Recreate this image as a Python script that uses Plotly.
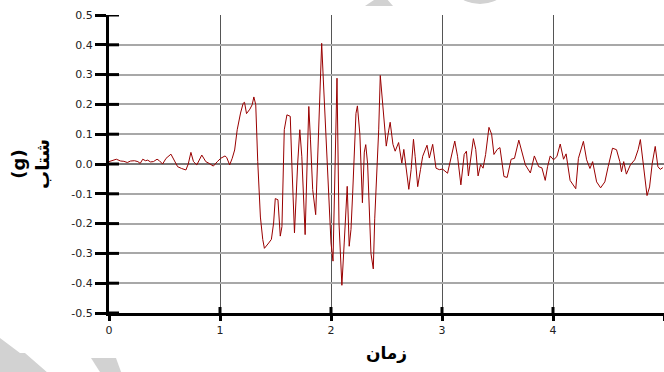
import plotly.graph_objects as go

# ---- data (time in s, acceleration in g) ----
TIME_S = [
    0.00, 0.021, 0.066, 0.105, 0.134, 0.165, 0.194, 0.23, 0.26, 0.281, 0.304, 0.329, 0.349, 0.373,
    0.40, 0.433, 0.454, 0.483, 0.514, 0.558, 0.588, 0.618, 0.654, 0.693, 0.714, 0.738, 0.761, 0.791,
    0.836, 0.872, 0.902, 0.94, 0.976, 1.006, 1.045, 1.06, 1.087, 1.11, 1.132, 1.155, 1.185, 1.209,
    1.221, 1.239, 1.269, 1.29, 1.305, 1.322, 1.34, 1.364, 1.385, 1.40,
    1.439, 1.463, 1.483, 1.498, 1.522, 1.543, 1.558, 1.579, 1.603, 1.633, 1.647, 1.671, 1.70, 1.719,
    1.737, 1.767, 1.785, 1.80, 1.815, 1.835, 1.862, 1.892, 1.90, 1.916, 1.931, 1.952, 1.976, 2.00,
    2.018, 2.041, 2.054, 2.072, 2.098, 2.119, 2.146, 2.164, 2.18, 2.195, 2.21, 2.225, 2.238, 2.26,
    2.283, 2.30, 2.313, 2.33, 2.36, 2.381, 2.394,
    2.415, 2.43, 2.444, 2.459, 2.474, 2.498, 2.519, 2.533, 2.558, 2.578, 2.609, 2.638, 2.656, 2.677,
    2.701, 2.722, 2.743, 2.758, 2.781, 2.806, 2.826, 2.865, 2.886, 2.916, 2.946, 2.976, 3.005, 3.05,
    3.074, 3.115, 3.14, 3.17, 3.20, 3.22, 3.238, 3.259, 3.283, 3.304, 3.325, 3.348, 3.37, 3.393,
    3.423, 3.447, 3.468, 3.498, 3.522, 3.558, 3.587,
    3.623, 3.653, 3.692, 3.722, 3.751, 3.796, 3.832, 3.871, 3.90, 3.93, 3.951, 3.975, 4.005, 4.035,
    4.065, 4.095, 4.118, 4.154, 4.205, 4.229, 4.274, 4.303, 4.333, 4.357, 4.393, 4.429, 4.467, 4.497,
    4.536, 4.572, 4.602, 4.617, 4.637, 4.661, 4.697, 4.736, 4.767, 4.787, 4.811, 4.847, 4.87, 4.894,
    4.921, 4.945, 4.966, 4.99,
]
ACCEL_G = [
    0.008, 0.010, 0.016, 0.010, 0.009, 0.005, 0.010, 0.011, 0.008, 0.002, 0.016, 0.011, 0.013, 0.007,
    0.008, 0.016, 0.011, 0.000, 0.019, 0.033, 0.013, -0.009, -0.015, -0.020, 0.000, 0.039, 0.008, -0.003,
    0.030, 0.008, 0.002, -0.007, 0.008, 0.019, 0.027, 0.022, -0.003, 0.019, 0.047, 0.115, 0.171, 0.204,
    0.207, 0.169, 0.184, 0.199, 0.225, 0.199, 0.008, -0.178, -0.253, -0.283,
    -0.265, -0.253, -0.198, -0.116, -0.120, -0.242, -0.210, 0.115, 0.165, 0.160, 0.003, -0.231, 0.003, 0.115,
    0.026, -0.237, 0.003, 0.193, 0.081, -0.086, -0.170, 0.160, 0.282, 0.405, 0.282, 0.115, -0.086, -0.265,
    -0.326, 0.115, 0.288, -0.198, -0.407, -0.265, -0.075, -0.276, -0.220, -0.100, 0.070, 0.170, 0.195, 0.100,
    -0.130, 0.040, 0.065, 0.000, -0.300, -0.352, -0.184,
    -0.008, 0.117, 0.297, 0.230, 0.140, 0.060, 0.111, 0.140, 0.066, 0.043, 0.072, 0.003, 0.049, -0.008,
    -0.085, -0.019, 0.083, 0.026, -0.076, -0.019, 0.026, 0.063, 0.020, 0.066, -0.014, -0.019, -0.017, -0.031,
    0.009, 0.077, 0.026, -0.070, 0.032, 0.043, -0.040, 0.015, 0.085, 0.049, -0.040, -0.002, -0.014, 0.032,
    0.123, 0.100, 0.032, 0.049, 0.055, -0.042, -0.045,
    0.016, 0.019, 0.080, 0.036, -0.003, -0.030, 0.027, -0.009, -0.013, -0.055, -0.009, 0.027, 0.014, 0.025,
    0.067, 0.016, 0.034, -0.055, -0.083, 0.019, 0.076, 0.014, -0.015, 0.008, -0.060, -0.080, -0.060, -0.009,
    0.053, 0.048, 0.008, -0.026, 0.008, -0.034, -0.003, 0.014, 0.048, 0.082, 0.002, -0.106, -0.077, 0.002,
    0.059, -0.009, -0.018, -0.012,
]

X_TICKS = [0, 1, 2, 3, 4, 5]
X_TICK_LABELS = ["0", "1", "2", "3", "4", "5"]
Y_TICKS = [-0.5, -0.4, -0.3, -0.2, -0.1, 0.0, 0.1, 0.2, 0.3, 0.4, 0.5]
Y_TICK_LABELS = ["-0.5", "-0.4", "-0.3", "-0.2", "-0.1", "0.0", "0.1", "0.2", "0.3", "0.4", "0.5"]

X_TITLE = "زمان"
Y_TITLE = "(g)<br>شتاب"

W, H = 664, 372
ML, MR, MT, MB = 109, 0, 15, 59
PW, PH = W - ML - MR, H - MT - MB

fig = go.Figure(
    go.Scatter(
        x=TIME_S, y=ACCEL_G, mode="lines",
        line=dict(color="#990000", width=1),
        showlegend=False,
    )
)

tick_font = dict(family="DejaVu Sans", size=11, color="#222222")
title_font = dict(family="DejaVu Sans", size=18, color="#000000", weight="bold")

shapes = []
# inner halves of the crossing tick marks
for yv in Y_TICKS:
    shapes.append(dict(type="line", xref="paper", yref="y", x0=0, x1=10 / PW, y0=yv, y1=yv,
                       line=dict(color="black", width=3), layer="above"))
for xv in X_TICKS[1:-1]:
    shapes.append(dict(type="line", xref="x", yref="paper", x0=xv, x1=xv, y0=0, y1=6 / PH,
                       line=dict(color="black", width=3), layer="above"))


def px2paper(px, py):
    return (px - ML) / PW, (H - MB - py) / PH


def poly(points):
    pts = [px2paper(a, b) for a, b in points]
    return "M " + " L ".join(f"{a:.4f},{b:.4f}" for a, b in pts) + " Z"


# faint watermark fragments in the background
wm = "#d2d2d2"
for pts in (
    [(0, 338), (20, 353), (25, 353), (56, 380), (-2, 380), (-2, 338)],
    [(91, 358), (116, 358), (124, 380), (105, 380)],
    [(365, 6), (393, 6), (386, -2), (377, -2)],
):
    shapes.append(dict(type="path", xref="paper", yref="paper", path=poly(pts),
                       fillcolor=wm, line=dict(width=0), layer="below"))
cx0, cy0 = px2paper(444, 4)
cx1, cy1 = px2paper(516, -68)
shapes.append(dict(type="circle", xref="paper", yref="paper", x0=cx0, x1=cx1, y0=cy0, y1=cy1,
                   fillcolor=wm, line=dict(width=0), layer="below"))

fig.update_layout(
    width=W, height=H,
    margin=dict(l=ML, r=MR, t=MT, b=MB, pad=0),
    paper_bgcolor="white", plot_bgcolor="rgba(0,0,0,0)",
    shapes=shapes,
    xaxis=dict(
        range=[0, 5], tickvals=X_TICKS, ticktext=X_TICK_LABELS,
        ticks="outside", ticklen=5, tickwidth=3, tickcolor="black",
        showline=True, linecolor="black", linewidth=2.5,
        showgrid=True, gridcolor="#555555", gridwidth=1, zeroline=False,
        tickfont=tick_font,
        title=dict(text=X_TITLE, font=dict(family="DejaVu Sans", size=17, color="#000000", weight="bold"),
                   standoff=12),
    ),
    yaxis=dict(
        range=[-0.5, 0.5], tickvals=Y_TICKS, ticktext=Y_TICK_LABELS,
        ticks="outside", ticklen=11, tickwidth=3, tickcolor="black",
        showline=True, linecolor="black", linewidth=3,
        showgrid=True, gridcolor="#a8a8a8", gridwidth=1.5,
        zeroline=True, zerolinecolor="#777777", zerolinewidth=1.5,
        tickfont=tick_font,
        title=dict(text=Y_TITLE, font=title_font, standoff=18),
    ),
)

fig.write_html(
    "out.html",
    config={"displayModeBar": False},
    post_script="document.body.style.margin='0';document.body.style.overflow='hidden';",
)
